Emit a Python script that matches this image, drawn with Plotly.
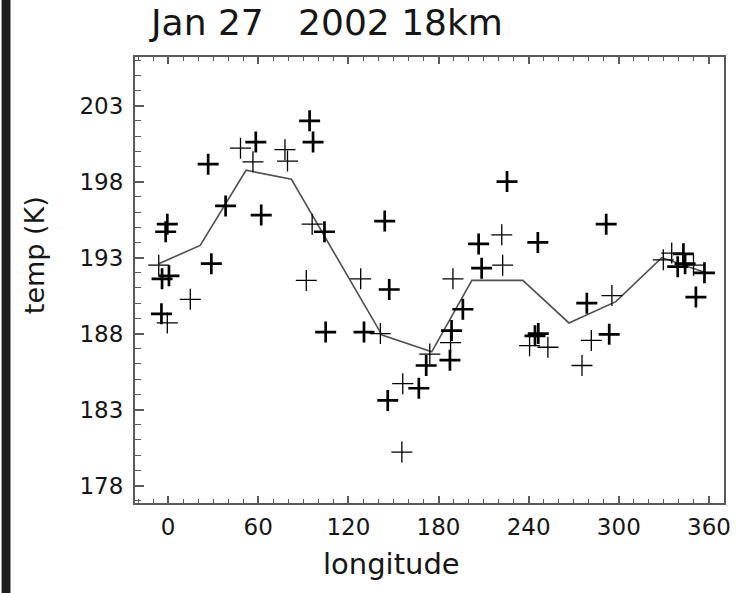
import numpy as np
import plotly.graph_objects as go

# ---- data ----
# bold "+" markers
lon_bold = [-4.0, 0.6, -0.5, -1.6, 28.8, 38.3, 26.7, 58.4, 62.0, 94.2, 96.5, 104.1,
            -4.4, 104.9, 144.2, 147.2, 206.7, 208.7, 225.6, 130.4, 171.8, 187.6,
            188.7, 196.2, 146.2, 278.7, 351.3, 244.2, 246.4, 293.6, 339.2, 357.0,
            246.1, 291.6, 166.9, 343.0, 344.1]
temp_bold = [191.6, 191.8, 195.2, 194.7, 192.6, 196.4, 199.15, 200.6, 195.8, 202.0, 200.6, 194.7,
             189.3, 188.1, 195.4, 190.9, 193.9, 192.3, 198.0, 188.1, 185.9, 186.25,
             188.2, 189.6, 183.6, 190.0, 190.4, 187.85, 188.0, 187.95, 192.4, 192.0,
             194.0, 195.2, 184.4, 193.25, 192.6]

# thin "+" markers
lon_thin = [-6.2, 48.2, 56.5, 77.8, 79.5, 95.9, 92.0, 128.2, 189.6, 141.3, 174.2, 155.6,
            156.2, 252.8, 281.7, 275.5, 329.6, 349.7, 14.8, -0.5, 222.1, 222.7,
            295.4, 335.2, 188.0, 240.6]
temp_thin = [192.5, 200.2, 199.3, 200.1, 199.35, 195.2, 191.5, 191.6, 191.6, 188.0, 186.65, 180.2,
             184.7, 187.1, 187.55, 185.9, 192.85, 192.5, 190.25, 188.7, 194.5, 192.5,
             190.5, 193.3, 187.4, 187.2]

# mean curve
lon_mean = [-6.2, 21.4, 51.9, 82.1, 142.4, 175.5, 202.2, 236.1, 266.8, 298.0, 328.6, 358.0]
temp_mean = [192.6, 193.8, 198.75, 198.15, 187.9, 186.8, 191.5, 191.5, 188.7, 190.1, 193.0, 192.0]

x_ticks = [0, 60, 120, 180, 240, 300, 360]
y_ticks = [178, 183, 188, 193, 198, 203]
title_text = "Jan 27   2002 18km"
x_title = "longitude"
y_title = "temp (K)"

# ---- layout geometry ----
W, H = 738, 593
ML, MR, MT, MB = 135, 7, 57, 90
PW, PH = W - ML - MR, H - MT - MB


def px(xp):
    return (xp - ML) / PW


def py(yp):
    return (H - MB - yp) / PH


FONT = "DejaVu Sans"
AX = "#5a5a5a"
TXT = "#161616"

fig = go.Figure()
fig.add_trace(go.Scatter(x=lon_mean, y=temp_mean, mode="lines",
                         line=dict(color="#505050", width=1.6), showlegend=False))
fig.add_trace(go.Scatter(x=lon_thin, y=temp_thin, mode="markers",
                         marker=dict(symbol="cross-thin", size=15,
                                     line=dict(color="black", width=1.3)),
                         showlegend=False))
fig.add_trace(go.Scatter(x=lon_bold, y=temp_bold, mode="markers",
                         marker=dict(symbol="cross-thin", size=15,
                                     line=dict(color="black", width=2.7)),
                         showlegend=False))

fig.update_layout(
    width=W, height=H,
    margin=dict(l=ML, r=MR, t=MT, b=MB, pad=0),
    paper_bgcolor="white", plot_bgcolor="white",
    font=dict(family=FONT, color=TXT),
    showlegend=False,
    xaxis=dict(range=[-22, 370], tickmode="array", tickvals=x_ticks,
               ticktext=[str(v) for v in x_ticks],
               ticks="inside", ticklen=7, tickwidth=1.5, tickcolor=AX,
               showline=True, linecolor=AX, linewidth=2, mirror="ticks",
               showgrid=False, zeroline=False, ticklabelstandoff=2,
               tickfont=dict(family=FONT, size=23, color=TXT),
               minor=dict(tickmode="array", tickvals=list(np.arange(-20, 371, 10)),
                          ticks="inside", ticklen=4, tickwidth=1.2, tickcolor=AX,
                          showgrid=False)),
    yaxis=dict(range=[176.85, 206.2], tickmode="array", tickvals=y_ticks,
               ticktext=[str(v) for v in y_ticks],
               ticks="inside", ticklen=9, tickwidth=1.5, tickcolor=AX,
               showline=True, linecolor=AX, linewidth=2, mirror=True,
               showgrid=False, zeroline=False, ticklabelstandoff=5,
               tickfont=dict(family=FONT, size=23, color=TXT),
               minor=dict(tickmode="array", tickvals=list(np.arange(177, 207, 1)),
                          ticks="inside", ticklen=6, tickwidth=1.2, tickcolor=AX,
                          showgrid=False)),
    annotations=[
        dict(text=title_text, xref="paper", yref="paper", x=px(147), y=py(22),
             xanchor="left", yanchor="middle", showarrow=False,
             font=dict(family=FONT, size=36, color=TXT)),
        dict(text=x_title, xref="paper", yref="paper", x=px(395), y=py(564),
             xanchor="center", yanchor="middle", showarrow=False,
             font=dict(family=FONT, size=29, color=TXT)),
        dict(text=y_title, xref="paper", yref="paper", x=px(34), y=py(255),
             xanchor="center", yanchor="middle", showarrow=False, textangle=-90,
             font=dict(family=FONT, size=27, color=TXT)),
    ],
    shapes=[
        dict(type="rect", xref="paper", yref="paper", x0=px(0), x1=px(9),
             y0=py(H), y1=py(0), fillcolor="#1e1e1e", line=dict(width=0), layer="above"),
    ],
)

fig.write_html("out.html")
